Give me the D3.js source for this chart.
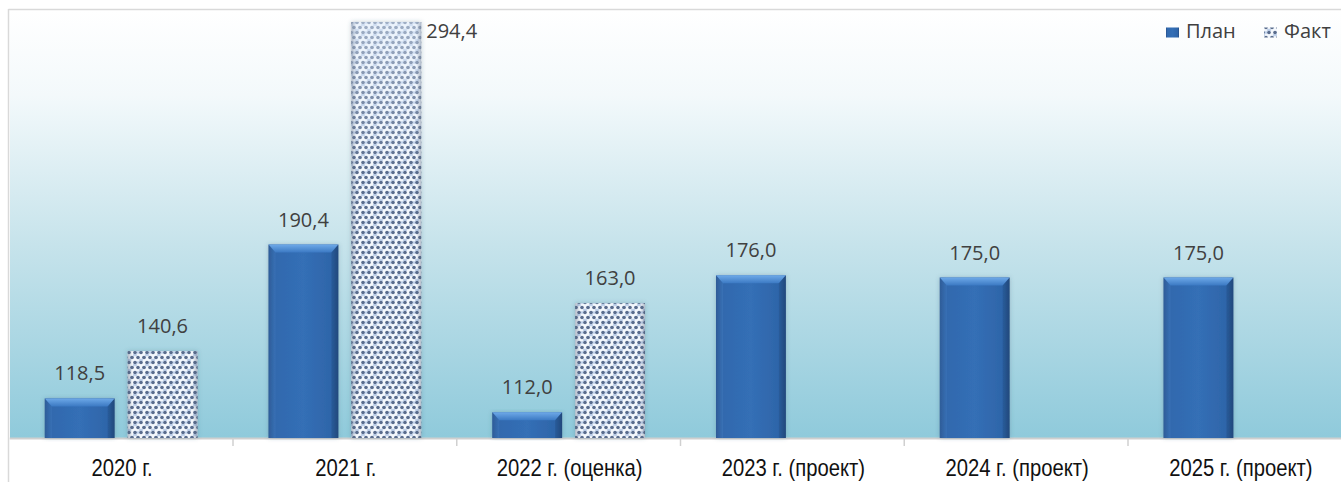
<!DOCTYPE html>
<html>
<head>
<meta charset="utf-8">
<script src="https://cdn.jsdelivr.net/npm/d3@7"></script>
<style>
  html, body { margin: 0; padding: 0; background: #ffffff; overflow: hidden; }
  svg { display: block; }
</style>
</head>
<body>
<svg id="chart" width="1341" height="482"></svg>
<script>
// Chart data
const categories = ["2020 г.", "2021 г.", "2022 г. (оценка)", "2023 г. (проект)", "2024 г. (проект)", "2025 г. (проект)"];
const seriesNames = ["План", "Факт"];
const planValues = [118.5, 190.4, 112.0, 176.0, 175.0, 175.0];
const factValues = [140.6, 294.4, 163.0, null, null, null];
const valueDomain = [100, 300];

const W = 1341, H = 482;
const plot = { left: 9.25, right: 1351.75, top: 10, bottom: 438 };

const svg = d3.select("#chart");
const defs = svg.append("defs");

// Plot background: white fading into light blue
const bg = defs.append("linearGradient").attr("id", "bgGrad")
  .attr("x1", 0).attr("y1", 0).attr("x2", 0).attr("y2", 1);
bg.append("stop").attr("offset", "0%").attr("stop-color", "#ffffff");
bg.append("stop").attr("offset", "20%").attr("stop-color", "#f3f9fb");
bg.append("stop").attr("offset", "55%").attr("stop-color", "#c6e3eb");
bg.append("stop").attr("offset", "100%").attr("stop-color", "#8fcadb");

// Plan bar body: darker edges, brighter middle
const planBody = defs.append("linearGradient").attr("id", "planBody")
  .attr("x1", 0).attr("y1", 0).attr("x2", 1).attr("y2", 0);
[["0%", "#264f8a"], ["10%", "#3169ae"], ["50%", "#346fb6"], ["90%", "#2e65a9"], ["100%", "#244b82"]]
  .forEach(([o, c]) => planBody.append("stop").attr("offset", o).attr("stop-color", c));

// Plan bar top bevel
const planTop = defs.append("linearGradient").attr("id", "planTop")
  .attr("x1", 0).attr("y1", 0).attr("x2", 0).attr("y2", 1);
planTop.append("stop").attr("offset", "0%").attr("stop-color", "#6ea9e8");
planTop.append("stop").attr("offset", "100%").attr("stop-color", "#3b79c3");

// Fact bar texture: pebble dots on a pale ground
const pat = defs.append("pattern").attr("id", "pebble")
  .attr("patternUnits", "userSpaceOnUse").attr("width", 12).attr("height", 10);
pat.append("rect").attr("width", 12).attr("height", 10).attr("fill", "#f3f7fc");
[[6, 2.5], [0, 7.5], [12, 7.5], [3, 5], [9, 0], [9, 10]].forEach(([x, y]) =>
  pat.append("ellipse").attr("cx", x).attr("cy", y).attr("rx", 2.2).attr("ry", 1.2).attr("fill", "#bfd1ea"));
[[3, 2.5], [9, 2.5], [0, 7.5], [6, 7.5], [12, 7.5], [0, -2.5], [6, -2.5], [12, -2.5], [3, 12.5], [9, 12.5]].forEach(([x, y]) =>
  pat.append("circle").attr("cx", x).attr("cy", y).attr("r", 1.8).attr("fill", "#596c8d"));

// Fact bar edge shading
const factEdge = defs.append("linearGradient").attr("id", "factEdge")
  .attr("x1", 0).attr("y1", 0).attr("x2", 1).attr("y2", 0);
[["0%", "#50607a", 0.4], ["7%", "#50607a", 0.0], ["93%", "#50607a", 0.0], ["100%", "#50607a", 0.4]]
  .forEach(([o, c, a]) => factEdge.append("stop").attr("offset", o).attr("stop-color", c).attr("stop-opacity", a));

// Soft pale wash at the top of tall textured bars
const factWash = defs.append("linearGradient").attr("id", "factWash")
  .attr("gradientUnits", "userSpaceOnUse").attr("x1", 0).attr("y1", plot.top).attr("x2", 0).attr("y2", 170);
factWash.append("stop").attr("offset", "0%").attr("stop-color", "#e3eefb").attr("stop-opacity", 0.55);
factWash.append("stop").attr("offset", "100%").attr("stop-color", "#e3eefb").attr("stop-opacity", 0);

// Halo around bars
const halo = defs.append("filter").attr("id", "halo")
  .attr("x", "-20%").attr("y", "-10%").attr("width", "140%").attr("height", "120%");
halo.append("feDropShadow").attr("dx", 0).attr("dy", 0).attr("stdDeviation", 2.2)
  .attr("flood-color", "#3a5570").attr("flood-opacity", 0.3);

// Scales
const x0 = d3.scaleBand().domain(categories).range([plot.left, plot.right]).padding(0);
const groupInset = 35.5;
const x1 = d3.scaleBand().domain(seriesNames)
  .range([groupInset, x0.bandwidth() - groupInset]).paddingInner(0.157).paddingOuter(0);
const y = d3.scaleLinear().domain(valueDomain).range([plot.bottom, plot.top]);

// Background and frame
svg.append("rect").attr("x", 10).attr("y", plot.top).attr("width", W - 10).attr("height", plot.bottom - plot.top)
  .attr("fill", "url(#bgGrad)");
svg.append("line").attr("x1", 8.5).attr("x2", W).attr("y1", plot.top - 0.5).attr("y2", plot.top - 0.5)
  .attr("stroke", "#d9d9d9").attr("stroke-width", 1.5);
svg.append("line").attr("x1", 8.5).attr("x2", 8.5).attr("y1", plot.top - 1).attr("y2", H)
  .attr("stroke", "#d9d9d9").attr("stroke-width", 1.5);

// Category axis
const xAxis = d3.axisBottom(x0).tickSize(0).tickPadding(0).tickFormat("");
const axisG = svg.append("g").attr("transform", `translate(0,${plot.bottom})`).call(xAxis);
axisG.select(".domain").attr("stroke", "#cfcfcf").attr("stroke-width", 2.2);
axisG.selectAll(".tick").remove();

// Ticks between categories
const boundaries = categories.slice(1).map(c => x0(c));
svg.append("g").selectAll("line").data(boundaries).join("line")
  .attr("x1", d => d).attr("x2", d => d)
  .attr("y1", plot.bottom).attr("y2", plot.bottom + 8)
  .attr("stroke", "#d0d0d0").attr("stroke-width", 1.5);

// Category labels, horizontally condensed
svg.append("g").selectAll("text").data(categories).join("text")
  .attr("transform", d => `translate(${x0(d) + x0.bandwidth() / 2 + 1},476) scale(0.88,1)`)
  .attr("text-anchor", "middle")
  .attr("font-family", "'Liberation Sans', Arial, sans-serif")
  .attr("font-size", 23)
  .attr("fill", "#111111")
  .text(d => d);

const fmt = v => d3.format(".1f")(v).replace(".", ",");

// Bars
const planData = categories.map((c, i) => ({ cat: c, value: planValues[i] }));
const factData = categories.map((c, i) => ({ cat: c, value: factValues[i] })).filter(d => d.value != null);

const bevel = 7;
const planG = svg.append("g");
planData.forEach(d => {
  const bx = x0(d.cat) + x1("План");
  const bw = x1.bandwidth();
  const top = y(d.value);
  const h = y(valueDomain[0]) - top;
  const g = planG.append("g");
  g.append("rect").attr("x", bx).attr("y", top).attr("width", bw).attr("height", h)
    .attr("fill", "url(#planBody)").attr("filter", "url(#halo)");
  g.append("path")
    .attr("d", `M${bx},${top} L${bx + bw},${top} L${bx + bw - bevel},${top + bevel + 1} L${bx + bevel},${top + bevel + 1} Z`)
    .attr("fill", "url(#planTop)");
  g.append("path")
    .attr("d", `M${bx},${top} L${bx + bevel},${top + bevel + 1} L${bx + bevel},${top + h} L${bx},${top + h} Z`)
    .attr("fill", "#5b95d6").attr("opacity", 0.18);
  g.append("path")
    .attr("d", `M${bx + bw},${top} L${bx + bw - bevel},${top + bevel + 1} L${bx + bw - bevel},${top + h} L${bx + bw},${top + h} Z`)
    .attr("fill", "#1b3a66").attr("opacity", 0.2);
});

const factG = svg.append("g");
factData.forEach(d => {
  const bx = x0(d.cat) + x1("Факт");
  const bw = x1.bandwidth();
  const top = y(d.value);
  const h = y(valueDomain[0]) - top;
  const g = factG.append("g");
  g.append("rect").attr("x", bx).attr("y", top).attr("width", bw).attr("height", h)
    .attr("fill", "url(#pebble)").attr("filter", "url(#halo)");
  g.append("rect").attr("x", bx).attr("y", top).attr("width", bw).attr("height", h)
    .attr("fill", "url(#factWash)");
  g.append("rect").attr("x", bx).attr("y", top).attr("width", bw).attr("height", h)
    .attr("fill", "url(#factEdge)");
});

// Value labels
const labelFont = "'Open Sans', 'Noto Sans', sans-serif";
function addLabel(d, series) {
  const bx = x0(d.cat) + x1(series);
  const bw = x1.bandwidth();
  const top = y(d.value);
  const fitsAbove = top - 18 - 15 > plot.top;
  svg.append("text")
    .attr("x", fitsAbove ? bx + bw / 2 : bx + bw + 5)
    .attr("y", fitsAbove ? top - 18 : top + 16)
    .attr("text-anchor", fitsAbove ? "middle" : "start")
    .attr("font-family", labelFont)
    .attr("font-size", 20)
    .attr("fill", "#404040")
    .text(fmt(d.value));
}
planData.forEach(d => addLabel(d, "План"));
factData.forEach(d => addLabel(d, "Факт"));

// Legend
const legend = svg.append("g");
const legendItems = [
  { name: seriesNames[0], x: 1166, fill: "url(#planBody)" },
  { name: seriesNames[1], x: 1264, fill: "url(#pebble)" }
];
legendItems.forEach(item => {
  legend.append("rect").attr("x", item.x).attr("y", 27.5).attr("width", 13).attr("height", 10)
    .attr("fill", item.fill);
  legend.append("text").attr("x", item.x + 20).attr("y", 37.5)
    .attr("font-family", labelFont).attr("font-size", 20).attr("fill", "#404040")
    .text(item.name);
});
</script>
</body>
</html>
